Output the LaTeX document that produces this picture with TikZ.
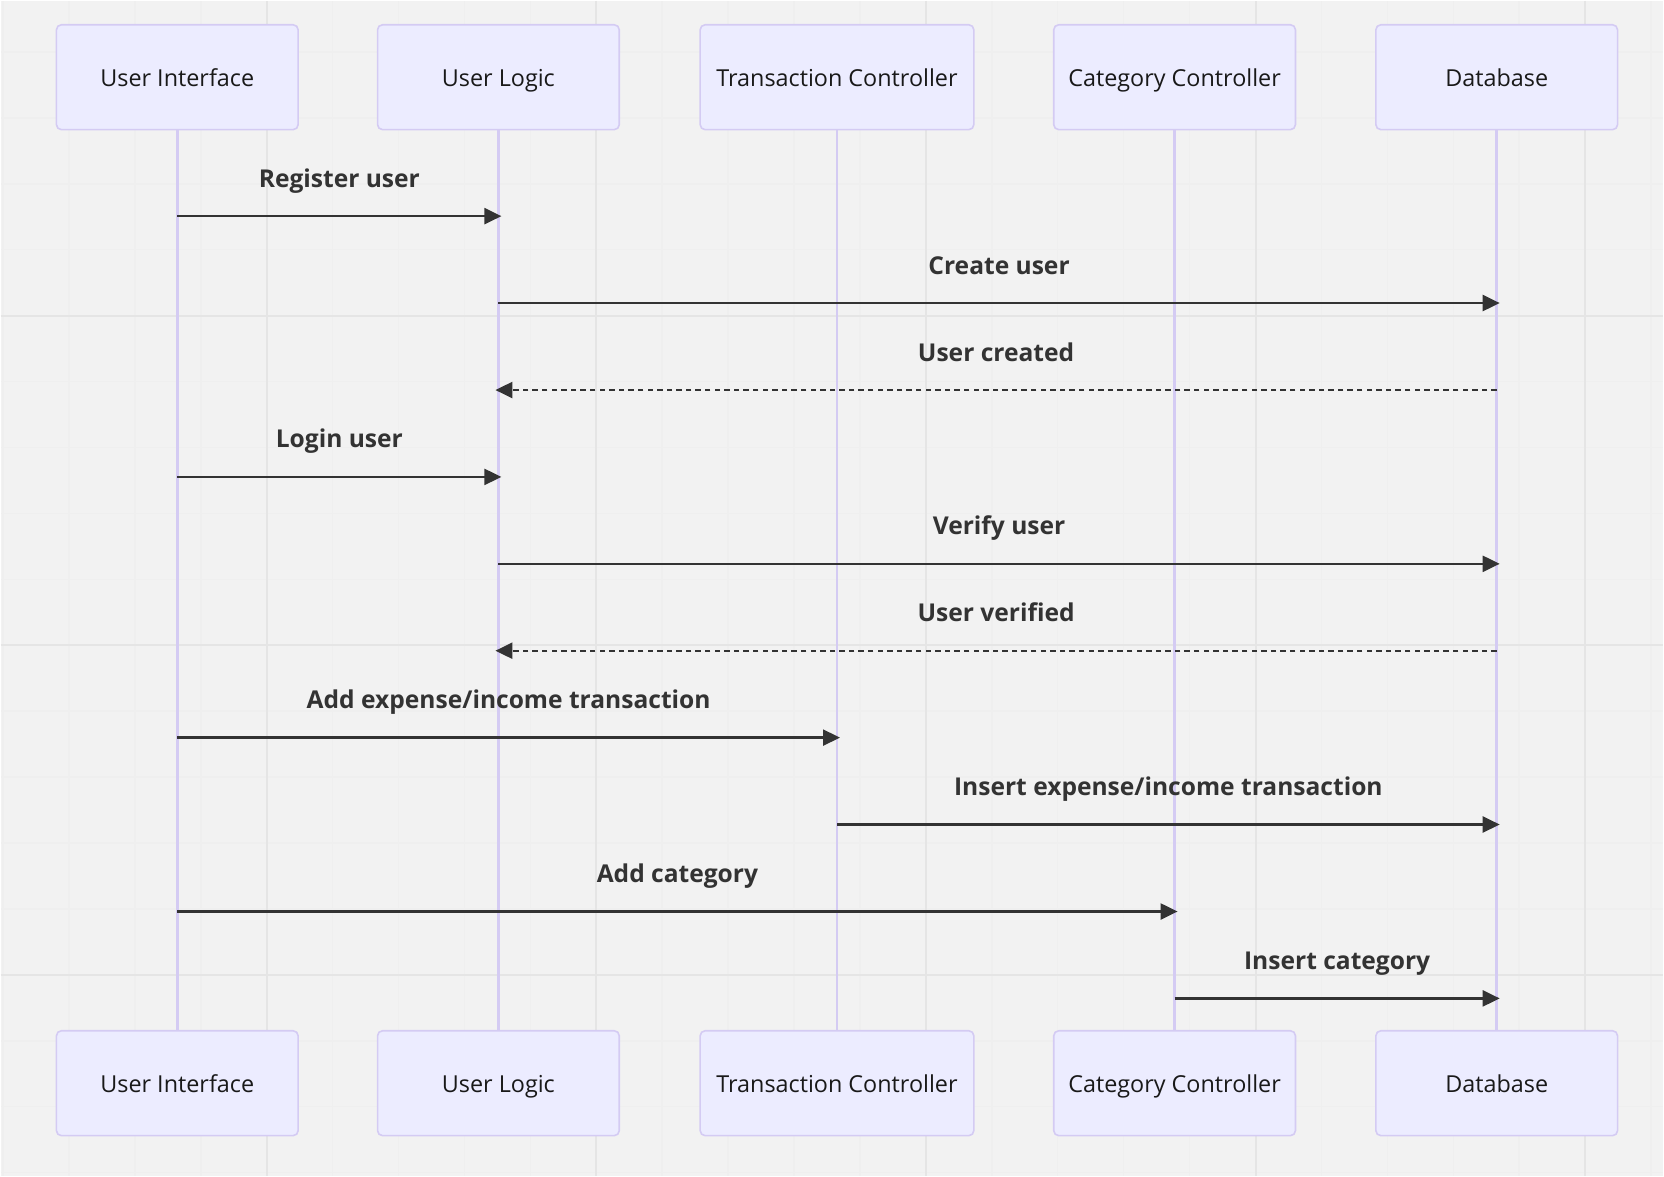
\documentclass[tikz,border=0pt]{standalone}
\usepackage{fontspec}
\setmainfont{Open Sans}
\usetikzlibrary{arrows.meta}
\definecolor{bgc}{HTML}{F2F2F2}
\definecolor{gridmin}{HTML}{EFEFEF}
\definecolor{gridmaj}{HTML}{E5E5E5}
\definecolor{actfill}{HTML}{ECECFF}
\definecolor{actline}{HTML}{D4CBF3}
\definecolor{msgc}{HTML}{333333}
\tikzset{
  actor/.style={draw=actline, line width=0.8pt, fill=actfill, rounded corners=2.5pt,
    minimum width=121pt, minimum height=52.5pt, inner sep=0pt,
    font=\fontsize{11.7}{14}\selectfont, text=black!90, text height=9.4pt, text depth=0pt},
  life/.style={actline, line width=1.4pt},
  msg/.style={msgc, line width=1.15pt, -{Triangle[length=8.5pt,width=8pt]}},
  reply/.style={msg, dash pattern=on 2.7pt off 2.1pt},
  msglabel/.style={anchor=base, yshift=14.5pt, text=msgc, font=\fontsize{12.3}{15}\selectfont\bfseries}
}
\begin{document}
\begin{tikzpicture}[x=0.5pt, y=-0.5pt]
        \fill[bgc] (0,0) rectangle (1664,1176);
        \foreach \gx in {2,68,...,1652} \draw[gridmin, line width=0.75pt] (\gx,0) -- (\gx,1176);
        \foreach \gy in {51,117,...,1173} \draw[gridmin, line width=0.75pt] (0,\gy) -- (1664,\gy);
        \foreach \gx in {266,596,...,1586} \draw[gridmaj, line width=1pt] (\gx,0) -- (\gx,1176);
        \foreach \gy in {315,645,975} \draw[gridmaj, line width=1pt] (0,\gy) -- (1664,\gy);

        \node[actor] (ui) at (176.5, 76.3) {User Interface};
        \node[actor] (ul) at (498, 76.3) {User Logic};
        \node[actor, minimum width=137pt] (tc) at (837, 76.3) {Transaction Controller};
        \node[actor] (cc) at (1175, 76.3) {Category Controller};
        \node[actor] (db) at (1497.5, 76.3) {Database};

        \node[actor] (uib) at (176.5, 1083.5) {User Interface};
        \node[actor] (ulb) at (498, 1083.5) {User Logic};
        \node[actor, minimum width=137pt] (tcb) at (837, 1083.5) {Transaction Controller};
        \node[actor] (ccb) at (1175, 1083.5) {Category Controller};
        \node[actor] (dbb) at (1497.5, 1083.5) {Database};

        \draw[life] (ui) -- (uib);
        \draw[life] (ul) -- (ulb);
        \draw[life] (tc) -- (tcb);
        \draw[life] (cc) -- (ccb);
        \draw[life] (db) -- (dbb);

        \foreach \i/\yy in {1/215.4, 2/302.4, 3/389.5, 4/476.5, 5/563.5, 6/650.5, 7/737.5, 8/824.5, 9/911.6, 10/998.6}
                \coordinate (m\i) at (0, \yy);

        \draw[msg] (ui |- m1) -- ([xshift=1.5pt]ul |- m1) node[msglabel, midway] {Register user};
        \draw[msg] (ul |- m2) -- ([xshift=1.5pt]db |- m2) node[msglabel, midway] {Create user};
        \draw[reply] (db |- m3) -- ([xshift=-1.5pt]ul |- m3) node[msglabel, midway] {User created};
        \draw[msg] (ui |- m4) -- ([xshift=1.5pt]ul |- m4) node[msglabel, midway] {Login user};
        \draw[msg] (ul |- m5) -- ([xshift=1.5pt]db |- m5) node[msglabel, midway] {Verify user};
        \draw[reply] (db |- m6) -- ([xshift=-1.5pt]ul |- m6) node[msglabel, midway] {User verified};
        \draw[msg] (ui |- m7) -- ([xshift=1.5pt]tc |- m7) node[msglabel, midway] {Add expense/income transaction};
        \draw[msg] (tc |- m8) -- ([xshift=1.5pt]db |- m8) node[msglabel, midway] {Insert expense/income transaction};
        \draw[msg] (ui |- m9) -- ([xshift=1.5pt]cc |- m9) node[msglabel, midway] {Add category};
        \draw[msg] (cc |- m10) -- ([xshift=1.5pt]db |- m10) node[msglabel, midway] {Insert category};
\end{tikzpicture}
\end{document}
